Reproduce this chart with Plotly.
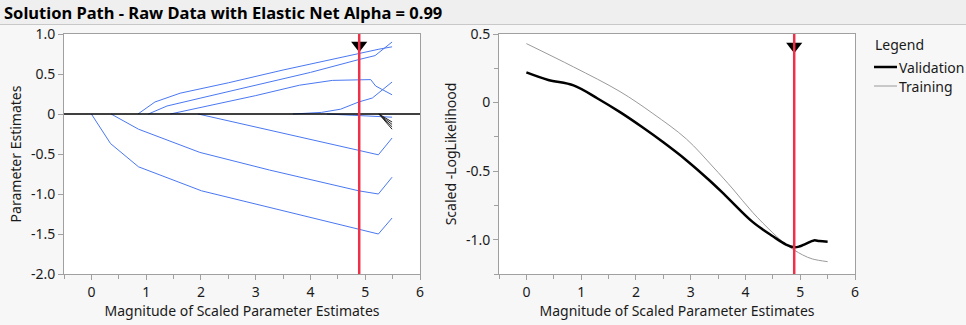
import plotly.graph_objects as go

W, H = 966, 325

# ---------------- data ----------------
title_text = "Solution Path - Raw Data with Elastic Net Alpha = 0.99"

# Left panel: parameter estimate paths (blue)
p1_x = [0.85, 1.16, 1.62, 2.5, 3.5, 4.88, 5.25, 5.49]
p1_y = [0.0, 0.15, 0.26, 0.39, 0.55, 0.76, 0.81, 0.84]
p2_x = [1.04, 1.38, 2.0, 3.0, 4.0, 4.88, 5.18, 5.49]
p2_y = [0.0, 0.10, 0.20, 0.36, 0.52, 0.68, 0.73, 0.90]
p3_x = [1.44, 2.0, 3.0, 3.8, 4.4, 5.1, 5.19, 5.49]
p3_y = [0.0, 0.08, 0.23, 0.36, 0.42, 0.43, 0.35, 0.24]
p4_x = [3.68, 4.2, 4.55, 4.88, 5.13, 5.49]
p4_y = [0.0, 0.02, 0.06, 0.15, 0.20, 0.40]
n1_x = [0.0, 0.35, 0.86, 2.01, 4.88, 5.24, 5.49]
n1_y = [0.0, -0.37, -0.66, -0.96, -1.44, -1.50, -1.30]
n2_x = [0.36, 0.86, 1.98, 3.25, 4.88, 5.24, 5.49]
n2_y = [0.0, -0.19, -0.48, -0.70, -0.96, -1.00, -0.79]
n3_x = [1.95, 4.88, 5.24, 5.49]
n3_y = [0.0, -0.46, -0.51, -0.30]
n4_x = [4.3, 5.25, 5.49]
n4_y = [0.0, -0.03, -0.04]
blue_paths = [(p1_x, p1_y), (p2_x, p2_y), (p3_x, p3_y), (p4_x, p4_y),
              (n1_x, n1_y), (n2_x, n2_y), (n3_x, n3_y), (n4_x, n4_y)]

# Small late-entering coefficients (dark)
late_x = [5.25, 5.49]
late_y_ends = [-0.10, -0.13, -0.16, -0.19]

# Right panel: scaled -loglikelihood
val_x = [0, 0.4, 0.86, 1.3, 1.71, 2.1, 2.5, 2.92, 3.35, 3.64, 4.13, 4.5, 4.74, 4.89, 4.98, 5.1, 5.25, 5.35, 5.5]
val_y = [0.22, 0.165, 0.125, 0.03, -0.07, -0.175, -0.29, -0.42, -0.57, -0.68, -0.87, -0.975, -1.035, -1.055, -1.05, -1.03, -1.005, -1.01, -1.015]
trn_x = [0, 0.86, 1.71, 2.31, 2.92, 3.41, 3.77, 4.13, 4.5, 4.74, 5.04, 5.22, 5.5]
trn_y = [0.43, 0.26, 0.08, -0.08, -0.265, -0.47, -0.63, -0.80, -0.95, -1.035, -1.11, -1.14, -1.16]

selected_x = 4.89

x_ticks = [0, 1, 2, 3, 4, 5, 6]
left_y_ticks = [1.0, 0.5, 0, -0.5, -1.0, -1.5, -2.0]
left_y_labels = ["1.0", "0.5", "0", "-0.5", "-1.0", "-1.5", "-2.0"]
right_y_ticks = [0.5, 0, -0.5, -1.0]
right_y_labels = ["0.5", "0", "-0.5", "-1.0"]

# ---------------- styling ----------------
FONT = "Noto Sans"
BLUE = "#4a78f2"
RED = "#ee3048"
AX = "#a0a0a0"
TXT = "#1a1a1a"
FS = 14

fig = go.Figure()

for px_, py_ in blue_paths:
    fig.add_trace(go.Scatter(x=px_, y=py_, mode="lines", line=dict(color=BLUE, width=1),
                             xaxis="x", yaxis="y", showlegend=False, hoverinfo="skip"))
for ye in late_y_ends:
    fig.add_trace(go.Scatter(x=late_x, y=[0, ye], mode="lines", line=dict(color="#222222", width=1),
                             xaxis="x", yaxis="y", showlegend=False, hoverinfo="skip"))

fig.add_trace(go.Scatter(x=trn_x, y=trn_y, mode="lines", line=dict(color="#9a9a9a", width=1, shape="spline"),
                         xaxis="x2", yaxis="y2", name="Training", showlegend=False))
fig.add_trace(go.Scatter(x=val_x, y=val_y, mode="lines", line=dict(color="black", width=2.5, shape="spline"),
                         xaxis="x2", yaxis="y2", name="Validation", showlegend=False))

# selection markers (triangles)
fig.add_trace(go.Scatter(x=[selected_x], y=[0.86], mode="markers",
                         marker=dict(symbol="triangle-down", size=14, color="black"),
                         xaxis="x", yaxis="y", showlegend=False, hoverinfo="skip"))
fig.add_trace(go.Scatter(x=[selected_x], y=[0.41], mode="markers",
                         marker=dict(symbol="triangle-down", size=14, color="black"),
                         xaxis="x2", yaxis="y2", showlegend=False, hoverinfo="skip"))

def px2x(p):
    return p / W

def px2y(p):
    return 1 - p / H

ydom = [px2y(274), px2y(34)]
axis_common = dict(showline=True, linecolor=AX, linewidth=1, mirror=True, ticks="outside",
                   ticklen=5, tickcolor=AX, showgrid=False, zeroline=False, automargin=False,
                   tickfont=dict(family=FONT, size=FS, color=TXT),
                   title_font=dict(family=FONT, size=FS, color=TXT))

fig.update_layout(
    width=W, height=H, margin=dict(l=0, r=0, t=0, b=0, autoexpand=False),
    paper_bgcolor="#f7f7f7", plot_bgcolor="white",
    font=dict(family=FONT, size=FS, color=TXT),
    xaxis=dict(domain=[px2x(64), px2x(420)], range=[-0.5, 6], tickvals=x_ticks,
               minor=dict(dtick=0.5, ticks="outside", ticklen=4, tickcolor=AX),
               title=dict(text="Magnitude of Scaled Parameter Estimates", standoff=4),
               anchor="y", **axis_common),
    yaxis=dict(domain=ydom, range=[-2, 1], tickvals=left_y_ticks, ticktext=left_y_labels,
               title=dict(text="Parameter Estimates", standoff=6), anchor="x", **axis_common),
    xaxis2=dict(domain=[px2x(499), px2x(855)], range=[-0.5, 6], tickvals=x_ticks,
                minor=dict(dtick=0.5, ticks="outside", ticklen=4, tickcolor=AX),
                title=dict(text="Magnitude of Scaled Parameter Estimates", standoff=4),
                anchor="y2", **axis_common),
    yaxis2=dict(domain=ydom, range=[-1.25, 0.5], tickvals=right_y_ticks, ticktext=right_y_labels,
                minor=dict(dtick=0.25, ticks="outside", ticklen=4, tickcolor=AX),
                title=dict(text="Scaled -LogLikelihood", standoff=6), anchor="x2", **axis_common),
)

shapes = [
    # title bar
    dict(type="rect", xref="paper", yref="paper", x0=0, x1=1, y0=px2y(24), y1=1,
         fillcolor="#efefef", line=dict(width=0), layer="below"),
    dict(type="line", xref="paper", yref="paper", x0=0, x1=1, y0=px2y(24.5), y1=px2y(24.5),
         line=dict(color="#c8c8c8", width=1)),
    # zero line on left panel
    dict(type="line", xref="x domain", yref="y", x0=0, x1=1, y0=0, y1=0,
         line=dict(color="black", width=1.5), layer="above"),
    # selected model lines
    dict(type="line", xref="x", yref="y domain", x0=selected_x, x1=selected_x, y0=0, y1=1,
         line=dict(color=RED, width=2.5), layer="above"),
    dict(type="line", xref="x2", yref="y2 domain", x0=selected_x, x1=selected_x, y0=0, y1=1,
         line=dict(color=RED, width=2.5), layer="above"),
    # legend samples
    dict(type="line", xref="paper", yref="paper", x0=px2x(874), x1=px2x(897), y0=px2y(67), y1=px2y(67),
         line=dict(color="black", width=2.5)),
    dict(type="line", xref="paper", yref="paper", x0=px2x(874), x1=px2x(897), y0=px2y(86), y1=px2y(86),
         line=dict(color="#9a9a9a", width=1)),
]
fig.update_layout(shapes=shapes)

annotations = [
    dict(text="<b>" + title_text + "</b>", xref="paper", yref="paper", x=px2x(2), y=px2y(12),
         xanchor="left", yanchor="middle", showarrow=False, font=dict(family=FONT, size=16.5, color="black")),
    dict(text="Legend", xref="paper", yref="paper", x=px2x(873), y=px2y(44),
         xanchor="left", yanchor="middle", showarrow=False, font=dict(family=FONT, size=FS, color=TXT)),
    dict(text="Validation", xref="paper", yref="paper", x=px2x(897), y=px2y(67),
         xanchor="left", yanchor="middle", showarrow=False, font=dict(family=FONT, size=FS, color=TXT)),
    dict(text="Training", xref="paper", yref="paper", x=px2x(897), y=px2y(86),
         xanchor="left", yanchor="middle", showarrow=False, font=dict(family=FONT, size=FS, color=TXT)),
]
fig.update_layout(annotations=annotations)

fig.write_html("out.html")
